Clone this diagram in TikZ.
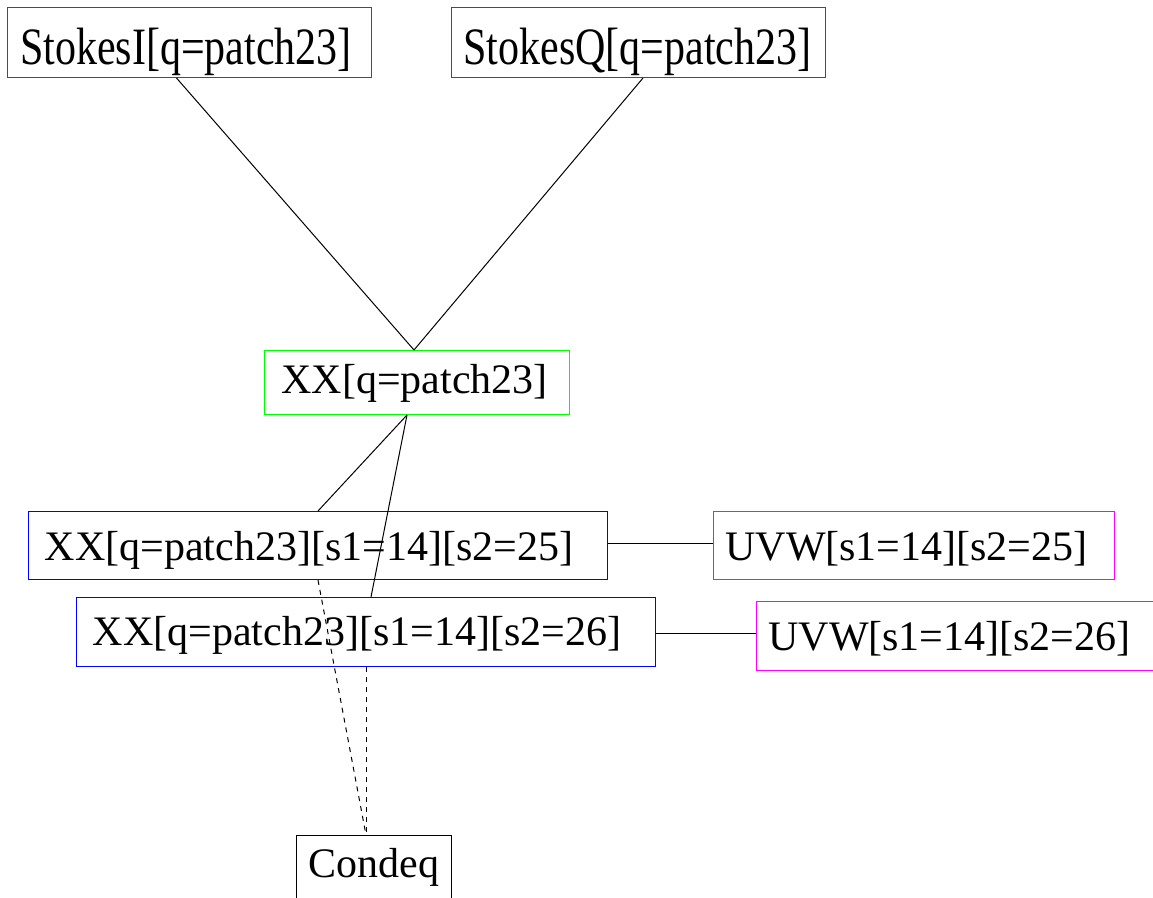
\documentclass[tikz,border=0pt]{standalone}
\usepackage{fontspec}
\setmainfont{Liberation Serif}
\usetikzlibrary{calc}
\definecolor{gvred}{RGB}{255,0,0}
\definecolor{gvgreen}{RGB}{0,255,0}
\definecolor{gvblue}{RGB}{0,0,255}
\definecolor{gvmag}{RGB}{255,0,255}
\begin{document}
\begin{tikzpicture}[x=1pt,y=-1pt,
  box/.style={draw, line width=1pt, rectangle, inner sep=0pt, text=black,
    font=\fontsize{42}{50}\selectfont, text height=29pt, text depth=0pt},
  edge/.style={line width=1pt, black},
  dedge/.style={line width=1pt, black, dash pattern=on 5pt off 5pt}]
\clip (0,0) rectangle (1153,897);
\fill[white] (0,0) rectangle (1153,897);
\node[box, draw=gvred, minimum width=364pt, minimum height=70pt, text height=43pt] (SI) at (189.5,42.5) {\scalebox{1}[1.25]{StokesI[q=patch23]}\hspace*{7pt}};
\node[box, draw=gvred, minimum width=374pt, minimum height=70pt, text height=43pt] (SQ) at (638.5,42.5) {\scalebox{1}[1.25]{StokesQ[q=patch23]}\hspace*{2pt}};
\node[box, draw=gvgreen, minimum width=305pt, minimum height=64pt, text depth=7.4pt] (XX) at (417,382.5) {XX[q=patch23]\hspace*{5pt}};
\node[box, draw=gvblue, minimum width=579pt, minimum height=68pt] (XX25) at (318,545.5) {XX[q=patch23][s1=14][s2=25]\hspace*{18pt}};
\node[box, draw=gvblue, minimum width=579pt, minimum height=69pt, text depth=3pt] (XX26) at (366,632) {XX[q=patch23][s1=14][s2=26]\hspace*{18pt}};
\node[box, draw=gvmag, minimum width=401pt, minimum height=68pt] (UVW25) at (914,545.5) {UVW[s1=14][s2=25]\hspace*{15pt}};
\node[box, draw=gvmag, minimum width=401pt, minimum height=69pt, text depth=1pt] (UVW26) at (957,636) {UVW[s1=14][s2=26]\hspace*{15pt}};
\node[box, draw=black, minimum width=155pt, minimum height=68pt, text depth=14pt] (C) at (374,869.5) {Condeq};
\draw[edge] ($(SI.south)+(-13,0)$) -- ($(XX.north)+(-3,0)$);
\draw[edge] ($(SQ.south)+(4.5,0)$) -- ($(XX.north)+(-3,0)$);
\draw[edge] ($(XX.south)+(-10,0)$) -- (XX25.north);
\draw[edge] ($(XX.south)+(-10,0)$) -- ($(XX26.north)+(5,0)$);
\draw[edge] ($(XX25.east)+(0,-2.5)$) -- ($(UVW25.west)+(0,-2.5)$);
\coordinate (e26) at ($(XX26.east)+(0,1.5)$);
\draw[edge] (e26) -- (UVW26.west |- e26);
\draw[dedge] (XX25.south) -- ($(C.north)+(-8,0)$);
\draw[dedge] (XX26.south) -- ($(C.north)+(-8,0)$);
\end{tikzpicture}
\end{document}
